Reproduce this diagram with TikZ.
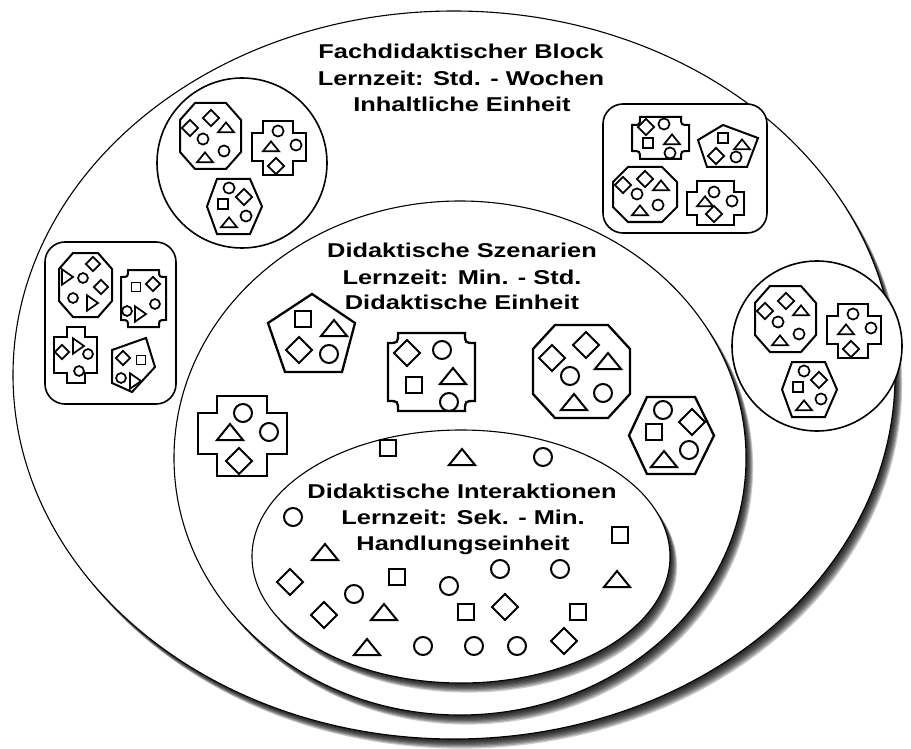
\documentclass[tikz,border=0pt]{standalone}
\usepackage{fontspec}
\newfontfamily\labfont[FakeStretch=1.27]{Liberation Sans}
\newcommand\symC[3]{\draw[sym] (#1,#2) circle[radius=9*#3];}
\newcommand\symS[3]{\draw[sym,shift={(#1,#2)},scale=#3] (-8,-8) rectangle (8,8);}
\newcommand\symT[3]{\draw[sym,shift={(#1,#2)},scale=#3] (-13,7)--(13,7)--(0,-9)--cycle;}
\newcommand\symD[3]{\draw[sym,shift={(#1,#2)},scale=#3] (0,-13)--(13,0)--(0,13)--(-13,0)--cycle;}
\newcommand\symR[3]{\draw[sym,shift={(#1,#2)},scale=#3] (-9,-14)--(-9,14)--(11,0)--cycle;}
\newcommand\cOct[6]{\draw[cont] (#1+#5,#2)--(#3-#5,#2)--(#3,#2+#6)--(#3,#4-#6)--(#3-#5,#4)--(#1+#5,#4)--(#1,#4-#6)--(#1,#2+#6)--cycle;}
\newcommand\cTick[5]{\draw[cont] (#1+#5,#2)--(#3-#5,#2) .. controls (#3-#5,#2+#5) .. (#3,#2+#5) -- (#3,#4-#5) .. controls (#3-#5,#4-#5) .. (#3-#5,#4) -- (#1+#5,#4) .. controls (#1+#5,#4-#5) .. (#1,#4-#5) -- (#1,#2+#5) .. controls (#1+#5,#2+#5) .. (#1+#5,#2) -- cycle;}
\newcommand\cCross[8]{\draw[cont] (#2,#5)--(#3,#5)--(#3,#6)--(#4,#6)--(#4,#7)--(#3,#7)--(#3,#8)--(#2,#8)--(#2,#7)--(#1,#7)--(#1,#6)--(#2,#6)--cycle;}
\newcommand\cHex[7]{\draw[cont] (#1,#7)--(#2,#5)--(#3,#5)--(#4,#7)--(#3,#6)--(#2,#6)--cycle;}
\newcommand\eshadow[4]{\foreach \k in {1,...,8}{\fill[black,opacity=0.2] (#1+0.9*\k,#2+1.2*\k) ellipse[x radius=#3,y radius=#4];}}
\newcommand\GroupA{%
  \draw[grp] (242,163) circle[radius=85];
  \cOct{180}{103}{241}{169}{15}{17}
  \symD{190}{128}{.62} \symD{211}{118}{.62} \symT{226}{128}{.62}
  \symC{203}{139}{.62} \symT{205}{158}{.62} \symC{224}{151}{.62}
  \cCross{252}{263}{293}{306}{121}{133}{161}{175}
  \symC{278}{131}{.62} \symT{271}{147}{.62} \symC{296}{145}{.62} \symD{276}{166}{.62}
  \cHex{207}{217}{250}{262}{179}{234}{206.5}
  \symC{229}{188}{.62} \symD{244}{197}{.62} \symS{223}{204}{.62}
  \symC{246}{216}{.62} \symT{229}{223}{.62}
}
\begin{document}
\begin{tikzpicture}[x=1pt,y=-1pt,line join=miter,
  ell/.style={draw=black,line width=1.1pt,fill=white},
  grp/.style={draw=black,line width=1.6pt,fill=white},
  cont/.style={draw=black,line width=2.3pt},
  sym/.style={draw=black,line width=2pt},
  small/.style={cont/.style={draw=black,line width=2pt},sym/.style={draw=black,line width=1.7pt}},
  lab/.style={font=\labfont\bfseries\fontsize{20}{24}\selectfont,inner sep=0pt,anchor=base}]
\useasboundingbox (0,0) rectangle (911,749);
\fill[white] (0,0) rectangle (911,749);
% outer ellipse
\eshadow{454}{375}{441}{364}
\draw[ell] (454,375) ellipse[x radius=441,y radius=364];
% groups in the outer ellipse
\begin{scope}[small]
  \GroupA
  \begin{scope}[shift={(575,183)}]\GroupA\end{scope}
  % right rounded rectangle
  \draw[grp,rounded corners=20pt] (603,104) rectangle (767,233);
  \cTick{632}{117}{689}{159}{8}
  \symD{646}{127}{.62} \symC{664}{124}{.62} \symS{648}{143}{.62} \symT{672}{140}{.62} \symC{670}{153}{.62}
  \draw[cont] (723,125)--(758,138)--(747,167)--(707,167)--(698,140)--cycle;
  \symS{723}{138}{.62} \symT{742}{145}{.62} \symD{716}{156}{.62} \symC{736}{157}{.62}
  \cOct{613}{167}{677}{222}{15}{15}
  \symD{623}{185}{.62} \symD{645}{179}{.62} \symT{661}{186}{.62}
  \symC{637}{194}{.62} \symT{640}{211}{.62} \symC{658}{205}{.62}
  \cCross{687}{697}{734}{744}{181}{192}{215}{225}
  \symC{714}{192}{.62} \symT{705}{202}{.62} \symC{732}{201}{.62} \symD{714}{214}{.62}
  % left rounded rectangle
  \draw[grp,rounded corners=20pt] (45,242) rectangle (176,404);
  \cOct{59}{253}{112}{317}{14}{16}
  \symR{67}{277}{.55} \symC{83}{278}{.55} \symD{93}{264}{.55}
  \symD{101}{287}{.55} \symC{73}{298}{.55} \symR{92}{303}{.55}
  \cTick{121}{270}{166}{327}{7}
  \symS{136}{287}{.55} \symD{153}{284}{.55} \symC{127}{311}{.55} \symR{140}{314}{.55} \symC{155}{304}{.55}
  \cCross{54}{67}{85}{97}{327}{337}{373}{383}
  \symD{62}{352}{.55} \symR{78}{346}{.55} \symC{88}{354}{.55} \symC{79}{371}{.55}
  \draw[cont] (112,350)--(146,338)--(155,367)--(132,392)--(112,383)--cycle;
  \symD{123}{358}{.55} \symS{141}{360}{.55} \symC{121}{378}{.55} \symR{135}{381}{.55}
\end{scope}
% middle ellipse
\eshadow{460}{458}{286}{257}
\draw[ell] (460,458) ellipse[x radius=286,y radius=257];
\draw[cont] (312,294)--(355,323)--(342,372)--(285,372)--(268,323)--cycle;
\symS{303}{319}{1} \symT{334}{329}{1} \symD{299}{350}{1} \symC{329}{354}{1}
\cTick{388}{333}{475}{411}{10}
\symD{407}{353}{1} \symC{442}{350}{1} \symS{414}{385}{1} \symT{453}{377}{1} \symC{449}{402}{1}
\cOct{533}{325}{630}{418}{22}{24}
\symD{552}{358}{1} \symD{586}{345}{1} \symT{608}{362}{1}
\symC{570}{376}{1} \symC{603}{393}{1} \symT{574}{403}{1}
\cHex{629}{647}{695}{714}{397}{474}{435.5}
\symC{663}{410}{1} \symD{692}{422}{1} \symS{654}{432}{1} \symC{689}{450}{1} \symT{664}{460}{1}
\cCross{198}{217}{267}{287}{396}{413}{454}{476}
\symC{243}{413}{1} \symT{230}{433}{1} \symC{269}{432}{1} \symD{239}{461}{1}
% inner ellipse
\eshadow{461}{556.5}{209}{126.5}
\draw[ell] (461,556.5) ellipse[x radius=209,y radius=126.5];
\symS{388}{448}{1} \symT{462}{458}{1} \symC{543}{457}{1}
\symC{293}{517}{1} \symT{325}{553}{1} \symS{620}{535}{1}
\symD{290}{582}{1} \symS{397}{577}{1} \symC{354}{594}{1} \symC{449}{586}{1}
\symC{500}{569}{1} \symC{560}{569}{1} \symT{617}{580}{1}
\symD{324}{615}{1} \symT{384}{613}{1} \symS{466}{612}{1} \symD{505}{607}{1} \symS{578}{612}{1}
\symT{367}{648}{1} \symC{423}{646}{1} \symC{474}{646}{1} \symC{517}{646}{1} \symD{564}{641}{1}
% labels
\node[lab] (fb1) at (461,59) {Fachdidaktischer Block};
\node[lab] (fb2) at (461,86) {Lernzeit: Std. - Wochen};
\node[lab] (fb3) at (462,112) {Inhaltliche Einheit};
\node[lab] (ds1) at (462,258) {Didaktische Szenarien};
\node[lab] (ds2) at (462,284) {Lernzeit: Min. - Std.};
\node[lab] (ds3) at (462,309) {Didaktische Einheit};
\node[lab] (di1) at (462,498) {Didaktische Interaktionen};
\node[lab] (di2) at (463,524) {Lernzeit: Sek. - Min.};
\node[lab] (di3) at (463,550) {Handlungseinheit};
\end{tikzpicture}
\end{document}
